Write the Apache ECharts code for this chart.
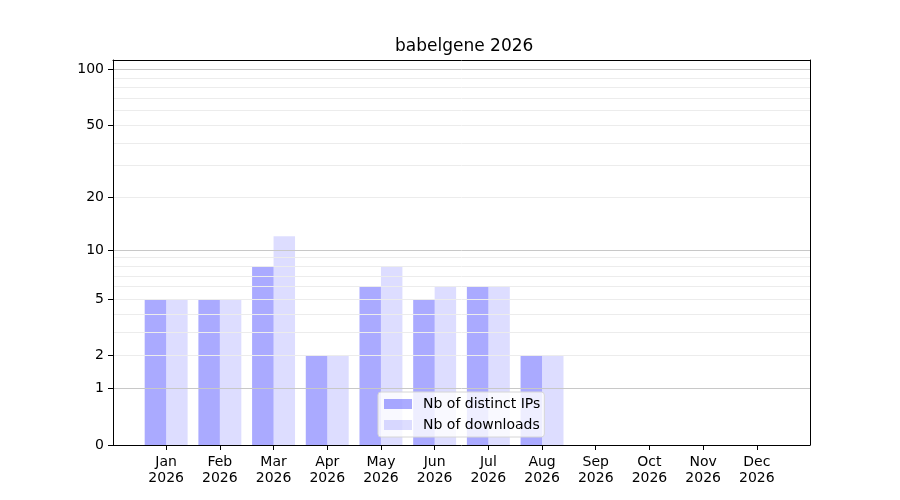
<!DOCTYPE html>
<html><head><meta charset="utf-8">
<script src="https://cdn.jsdelivr.net/npm/echarts@6/dist/echarts.min.js"></script>
<style>html,body{margin:0;padding:0;background:#fff}#c{width:900px;height:500px}</style>
</head><body><div id="c"></div>
<script>
const months = ['Jan','Feb','Mar','Apr','May','Jun','Jul','Aug','Sep','Oct','Nov','Dec'];
const year = '2026';
const distinctIPs = [5,5,8,2,6,5,6,2,0,0,0,0];
const downloads   = [5,5,12,2,8,6,6,2,0,0,0,0];
const yTickLabels = [0,1,2,5,10,20,50,100];
const majorGrid = [1,10,100];
const minorGrid = [2,3,4,5,6,7,8,9,20,30,40,50,60,70,80,90];
const yTop = 112.5;

// y axis is a log axis on (value + 1), i.e. log10(v+1) scale
const sh = v => v + 1;
const idx = months.map((m,i)=>i);

const chart = echarts.init(document.getElementById('c'), null, {renderer:'canvas'});
const font = 'DejaVu Sans';
const frameAxis = {show:true,onZero:false,lineStyle:{color:'#000'}};
chart.setOption({
  animation:false,
  textStyle:{fontFamily:font},
  title:{text:'babelgene 2026', left:395, top:38, padding:0,
    textStyle:{fontFamily:font,fontSize:17,fontWeight:'normal',color:'#000'}},
  grid:{left:113,right:90,top:60,bottom:55,show:false},
  legend:{orient:'vertical', left:378, top:392, itemWidth:28, itemHeight:10, itemGap:7,
    padding:[5,4,5,6], backgroundColor:'rgba(255,255,255,0.8)', borderColor:'#d6d6d6', borderWidth:1, borderRadius:3,
    textStyle:{fontFamily:font,fontSize:14,color:'#000',padding:[0,0,0,6]}, icon:'rect',
    data:['Nb of distinct IPs','Nb of downloads']},
  xAxis:[{type:'value', min:-0.99, max:11.99, z:5,
    axisLine:frameAxis,
    axisTick:{show:true,customValues:idx,length:5,lineStyle:{color:'#000'}},
    axisLabel:{customValues:idx,formatter:v=>months[Math.round(v)]+'\n'+year,
      fontFamily:font,fontSize:14,color:'#000',lineHeight:16,margin:9},
    splitLine:{show:false}},
    {type:'value', position:'top', min:-0.99, max:11.99, z:5,
     axisLine:frameAxis, axisTick:{show:false}, axisLabel:{show:false}, splitLine:{show:false}}],
  yAxis:[{type:'log', logBase:10, min:1, max:sh(yTop), z:5,
    axisLine:frameAxis,
    axisTick:{show:true,customValues:yTickLabels.map(sh),length:5,lineStyle:{color:'#000'}},
    axisLabel:{customValues:yTickLabels.map(sh),formatter:v=>String(Math.round(v-1)),
      fontFamily:font,fontSize:14,color:'#000',margin:9},
    splitLine:{show:false}, minorTick:{show:false}, minorSplitLine:{show:false}},
    {type:'log', logBase:10, position:'right', min:1, max:sh(yTop), z:5,
     axisLine:frameAxis, axisTick:{show:false}, axisLabel:{show:false}, splitLine:{show:false},
     minorTick:{show:false}, minorSplitLine:{show:false}}],
  series:[
    {name:'minorGrid', type:'line', data:[], z:0, silent:true,
      markLine:{silent:true,symbol:'none',label:{show:false},animation:false,
        lineStyle:{color:'#ececec',width:1,type:'solid'},
        data:minorGrid.map(v=>({yAxis:sh(v)}))}},
    {name:'majorGrid', type:'line', data:[], z:0, silent:true,
      markLine:{silent:true,symbol:'none',label:{show:false},animation:false,
        lineStyle:{color:'#c8c8c8',width:1,type:'solid'},
        data:majorGrid.map(v=>({yAxis:sh(v)}))}},
    {name:'Nb of distinct IPs', type:'bar', barWidth:'40%', barGap:'0%',
      itemStyle:{color:'rgba(0,0,255,0.333)'},
      data:distinctIPs.map((v,i)=>[i,sh(v)])},
    {name:'Nb of downloads', type:'bar', barWidth:'40%', barGap:'0%',
      itemStyle:{color:'rgba(0,0,255,0.133)'},
      data:downloads.map((v,i)=>[i,sh(v)])}
  ]
});
</script></body></html>
